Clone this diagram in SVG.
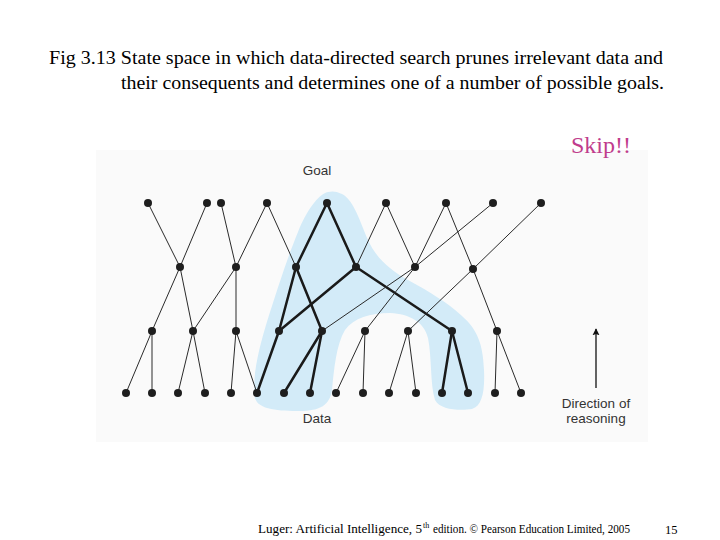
<svg xmlns="http://www.w3.org/2000/svg" width="720" height="540" viewBox="0 0 720 540">
<style>
.serif{font-family:"Liberation Serif","Times New Roman",serif;fill:#000}
.sans{font-family:"Liberation Sans",Arial,sans-serif;fill:#333}
.thin{stroke:#2a2a2a;stroke-width:1;fill:none}
.thick{stroke:#1a1a1a;stroke-width:2.5;fill:none;stroke-linecap:round}
.n{fill:#1e1e1e}
</style>
<defs>
<marker id="ah" viewBox="0 0 10 10" refX="9" refY="5" markerWidth="7" markerHeight="10" orient="auto" markerUnits="userSpaceOnUse">
<path d="M0,0 L10,5 L0,10 L2,5 Z" fill="#111"/>
</marker>
</defs>
<rect width="720" height="540" fill="#fff"/>
<rect x="96" y="150" width="552" height="292" fill="#fafafa"/>
<text class="serif" x="49" y="64" font-size="19" textLength="614" lengthAdjust="spacingAndGlyphs">Fig 3.13 State space in which data-directed search prunes irrelevant data and</text>
<text class="serif" x="121" y="89" font-size="19" textLength="543" lengthAdjust="spacingAndGlyphs">their consequents and determines one of a number of possible goals.</text>
<text x="571" y="153" font-size="24" style="font-family:'Liberation Serif',serif;fill:#c03c8c">Skip!!</text>
<path d="M328,192 C318,194 306,212 298,232 C288,256 277,290 266,325 C258,352 252,378 255,398 C258,410 280,411 300,411 C320,411 330,405 332,390 C334,370 336,345 345,330 C354,318 370,313 390,313 C410,314 424,322 428,338 C432,358 430,384 435,400 C440,410 460,411 472,409 C482,406 485,392 484,370 C483,345 478,330 462,316 C448,303 430,292 408,280 C390,270 376,258 368,240 C360,222 354,200 342,194 C336,191 332,191 328,192 Z" fill="#d3ebf8"/>
<text class="sans" x="317" y="175" font-size="13.5" text-anchor="middle">Goal</text>
<text class="sans" x="317" y="423" font-size="13.5" text-anchor="middle">Data</text>
<text class="sans" x="596" y="408" font-size="13.5" text-anchor="middle">Direction of</text>
<text class="sans" x="596" y="423" font-size="13.5" text-anchor="middle">reasoning</text>
<line x1="596" y1="388" x2="596" y2="329" stroke="#111" stroke-width="1.3" marker-end="url(#ah)"/>
<g id="connectors">
<line class="thin" x1="148" y1="203" x2="180" y2="267"/>
<line class="thin" x1="207" y1="203" x2="180" y2="267"/>
<line class="thin" x1="221" y1="203" x2="236" y2="267"/>
<line class="thin" x1="267" y1="203" x2="236" y2="267"/>
<line class="thin" x1="267" y1="203" x2="296" y2="267"/>
<line class="thick" x1="327" y1="203" x2="296" y2="267"/>
<line class="thick" x1="327" y1="203" x2="356" y2="267"/>
<line class="thin" x1="386" y1="203" x2="356" y2="267"/>
<line class="thin" x1="386" y1="203" x2="415" y2="267"/>
<line class="thin" x1="446" y1="203" x2="415" y2="267"/>
<line class="thin" x1="446" y1="203" x2="473" y2="269"/>
<line class="thin" x1="493" y1="203" x2="415" y2="267"/>
<line class="thin" x1="541" y1="203" x2="473" y2="269"/>
<line class="thin" x1="180" y1="267" x2="152" y2="331"/>
<line class="thin" x1="180" y1="267" x2="193" y2="331"/>
<line class="thin" x1="236" y1="267" x2="193" y2="331"/>
<line class="thin" x1="236" y1="267" x2="236" y2="331"/>
<line class="thick" x1="296" y1="267" x2="279" y2="331"/>
<line class="thick" x1="296" y1="267" x2="322" y2="331"/>
<line class="thick" x1="356" y1="267" x2="279" y2="331"/>
<line class="thick" x1="356" y1="267" x2="452" y2="331"/>
<line class="thin" x1="415" y1="267" x2="322" y2="331"/>
<line class="thin" x1="415" y1="267" x2="365" y2="331"/>
<line class="thin" x1="473" y1="269" x2="408" y2="331"/>
<line class="thin" x1="473" y1="269" x2="497" y2="331"/>
<line class="thin" x1="152" y1="331" x2="126" y2="393"/>
<line class="thin" x1="152" y1="331" x2="152" y2="393"/>
<line class="thin" x1="193" y1="331" x2="178" y2="393"/>
<line class="thin" x1="193" y1="331" x2="205" y2="393"/>
<line class="thin" x1="236" y1="331" x2="231" y2="393"/>
<line class="thin" x1="236" y1="331" x2="257" y2="393"/>
<line class="thick" x1="279" y1="331" x2="257" y2="393"/>
<line class="thick" x1="322" y1="331" x2="284" y2="393"/>
<line class="thick" x1="322" y1="331" x2="310" y2="393"/>
<line class="thin" x1="365" y1="331" x2="336" y2="393"/>
<line class="thin" x1="365" y1="331" x2="363" y2="393"/>
<line class="thin" x1="408" y1="331" x2="389" y2="393"/>
<line class="thin" x1="408" y1="331" x2="416" y2="393"/>
<line class="thick" x1="452" y1="331" x2="442" y2="393"/>
<line class="thick" x1="452" y1="331" x2="468" y2="393"/>
<line class="thin" x1="497" y1="331" x2="495" y2="393"/>
<line class="thin" x1="497" y1="331" x2="521" y2="393"/>
</g>
<g id="goals">
<circle id="g1" class="n" cx="148" cy="203" r="4"/>
<circle id="g2" class="n" cx="207" cy="203" r="4"/>
<circle id="g3" class="n" cx="221" cy="203" r="4"/>
<circle id="g4" class="n" cx="267" cy="203" r="4"/>
<circle id="g5" class="n" cx="327" cy="203" r="4"/>
<circle id="g6" class="n" cx="386" cy="203" r="4"/>
<circle id="g7" class="n" cx="446" cy="203" r="4"/>
<circle id="g8" class="n" cx="493" cy="203" r="4"/>
<circle id="g9" class="n" cx="541" cy="203" r="4"/>
</g>
<g id="level2">
<circle id="a1" class="n" cx="180" cy="267" r="4"/>
<circle id="a2" class="n" cx="236" cy="267" r="4"/>
<circle id="a3" class="n" cx="296" cy="267" r="4"/>
<circle id="a4" class="n" cx="356" cy="267" r="4"/>
<circle id="a5" class="n" cx="415" cy="267" r="4"/>
<circle id="a6" class="n" cx="473" cy="269" r="4"/>
</g>
<g id="level3">
<circle id="b1" class="n" cx="152" cy="331" r="4"/>
<circle id="b2" class="n" cx="193" cy="331" r="4"/>
<circle id="b3" class="n" cx="236" cy="331" r="4"/>
<circle id="b4" class="n" cx="279" cy="331" r="4"/>
<circle id="b5" class="n" cx="322" cy="331" r="4"/>
<circle id="b6" class="n" cx="365" cy="331" r="4"/>
<circle id="b7" class="n" cx="408" cy="331" r="4"/>
<circle id="b8" class="n" cx="452" cy="331" r="4"/>
<circle id="b9" class="n" cx="497" cy="331" r="4"/>
</g>
<g id="data">
<circle id="d1" class="n" cx="126" cy="393" r="4"/>
<circle id="d2" class="n" cx="152" cy="393" r="4"/>
<circle id="d3" class="n" cx="178" cy="393" r="4"/>
<circle id="d4" class="n" cx="205" cy="393" r="4"/>
<circle id="d5" class="n" cx="231" cy="393" r="4"/>
<circle id="d6" class="n" cx="257" cy="393" r="4"/>
<circle id="d7" class="n" cx="284" cy="393" r="4"/>
<circle id="d8" class="n" cx="310" cy="393" r="4"/>
<circle id="d9" class="n" cx="336" cy="393" r="4"/>
<circle id="d10" class="n" cx="363" cy="393" r="4"/>
<circle id="d11" class="n" cx="389" cy="393" r="4"/>
<circle id="d12" class="n" cx="416" cy="393" r="4"/>
<circle id="d13" class="n" cx="442" cy="393" r="4"/>
<circle id="d14" class="n" cx="468" cy="393" r="4"/>
<circle id="d15" class="n" cx="495" cy="393" r="4"/>
<circle id="d16" class="n" cx="521" cy="393" r="4"/>
</g>
<text class="serif" x="258" y="533" font-size="12" textLength="164" lengthAdjust="spacingAndGlyphs">Luger: Artificial Intelligence, 5</text>
<text class="serif" x="423" y="528" font-size="8">th</text>
<text class="serif" x="433" y="533" font-size="12" textLength="197" lengthAdjust="spacingAndGlyphs">edition. © Pearson Education Limited, 2005</text>
<text class="serif" x="665" y="534" font-size="12.5">15</text>
</svg>
